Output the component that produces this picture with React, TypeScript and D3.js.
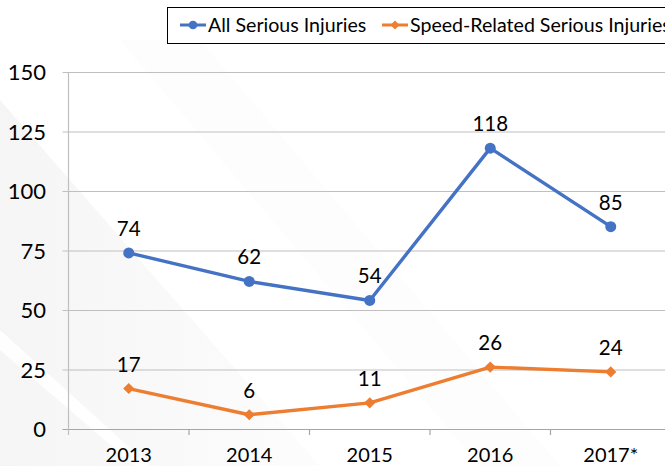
import React, { useEffect, useRef } from 'react';
import * as d3 from 'd3';

const years = ['2013', '2014', '2015', '2016', '2017*'];
const allSerious = [74, 62, 54, 118, 85];
const speedRelated = [17, 6, 11, 26, 24];
const yTicks = [0, 25, 50, 75, 100, 125, 150];

const seriesNames = ['All Serious Injuries', 'Speed-Related Serious Injuries'];
const blue = '#4472C4';
const orange = '#ED7D31';
const font = 'Lato, "Open Sans", sans-serif';

const App = () => {
  const ref = useRef<SVGSVGElement>(null);

  useEffect(() => {
    const width = 665;
    const height = 466;
    const left = 68.5;
    const svg = d3.select(ref.current);
    svg.selectAll('*').remove();

    // faint slide background
    const defs = svg.append('defs');
    const grad = defs.append('linearGradient').attr('id', 'bgfade')
      .attr('x1', 0).attr('y1', 0).attr('x2', 1).attr('y2', 0);
    grad.append('stop').attr('offset', '0%').attr('stop-color', '#ededed');
    grad.append('stop').attr('offset', '100%').attr('stop-color', '#fbfbfb');
    svg.append('rect').attr('width', width).attr('height', height).attr('fill', '#fff');
    svg.append('path')
      .attr('d', 'M0,100 L0,466 L320,466 Z')
      .attr('fill', 'url(#bgfade)').attr('opacity', 0.55);
    svg.append('path')
      .attr('d', 'M0,330 L150,466 L135,466 L0,350 Z')
      .attr('fill', '#ffffff').attr('opacity', 0.9);
    svg.append('path')
      .attr('d', 'M120,40 L480,466 L560,466 L200,40 Z')
      .attr('fill', '#f9f9f9').attr('opacity', 0.35);

    const x = d3.scaleBand().domain(years).range([left, 671]);
    const y = d3.scaleLinear().domain([0, 150]).range([429, 72]);
    const cx = (d: string) => x(d)! + x.bandwidth() / 2;

    // gridlines + y ticks
    svg.append('g')
      .selectAll('line')
      .data(yTicks)
      .join('line')
      .attr('x1', left - 6).attr('x2', width)
      .attr('y1', d => y(d) + 0.5).attr('y2', d => y(d) + 0.5)
      .attr('stroke', d => (d === 0 ? '#a6a6a6' : '#bfbfbf'))
      .attr('stroke-width', 1.2);

    svg.append('line')
      .attr('x1', left).attr('x2', left)
      .attr('y1', y(150)).attr('y2', y(0) + 6)
      .attr('stroke', '#bfbfbf').attr('stroke-width', 1.2);

    // x ticks at band boundaries
    svg.append('g')
      .selectAll('line')
      .data(years.slice(1))
      .join('line')
      .attr('x1', d => x(d)!).attr('x2', d => x(d)!)
      .attr('y1', y(0)).attr('y2', y(0) + 6)
      .attr('stroke', '#a6a6a6').attr('stroke-width', 1.2);

    svg.append('g')
      .attr('font-family', font).attr('font-size', 22).attr('fill', '#000')
      .attr('text-anchor', 'end')
      .selectAll('text')
      .data(yTicks)
      .join('text')
      .attr('x', 46).attr('y', d => y(d) + 8)
      .text(d => d);

    svg.append('g')
      .attr('font-family', font).attr('font-size', 20).attr('fill', '#000')
      .attr('text-anchor', 'middle')
      .selectAll('text')
      .data(years)
      .join('text')
      .attr('x', d => cx(d)).attr('y', 462)
      .text(d => d);

    const line = d3.line<number>().x((_, i) => cx(years[i])).y(d => y(d));

    const drawSeries = (vals: number[], color: string, shape: 'circle' | 'diamond') => {
      svg.append('path').datum(vals)
        .attr('d', line).attr('fill', 'none')
        .attr('stroke', color).attr('stroke-width', 3.4)
        .attr('stroke-linejoin', 'round');
      const sym = d3.symbol()
        .type(shape === 'circle' ? d3.symbolCircle : d3.symbolSquare)
        .size(shape === 'circle' ? 95 : 62);
      svg.append('g').selectAll('path')
        .data(vals).join('path')
        .attr('transform', (d, i) =>
          `translate(${cx(years[i])},${y(d)})${shape === 'diamond' ? ' rotate(45)' : ''}`)
        .attr('d', sym)
        .attr('fill', color);
      svg.append('g')
        .attr('font-family', font).attr('font-size', 20.5).attr('fill', '#000')
        .attr('text-anchor', 'middle')
        .selectAll('text')
        .data(vals).join('text')
        .attr('x', (_, i) => cx(years[i])).attr('y', d => y(d) - 17)
        .text(d => d);
    };

    drawSeries(allSerious, blue, 'circle');
    drawSeries(speedRelated, orange, 'diamond');

    // legend (runs past the right edge, as in the source slide)
    const lg = svg.append('g');
    lg.append('rect')
      .attr('x', 167.5).attr('y', 7.5).attr('width', 520).attr('height', 36)
      .attr('fill', '#fff').attr('stroke', '#000').attr('stroke-width', 1);
    const items = [
      { name: seriesNames[0], color: blue, sym: d3.symbolCircle, size: 60, rot: '', x: 180 },
      { name: seriesNames[1], color: orange, sym: d3.symbolSquare, size: 40, rot: ' rotate(45)', x: 382 },
    ];
    items.forEach(it => {
      lg.append('line')
        .attr('x1', it.x).attr('x2', it.x + 26).attr('y1', 25).attr('y2', 25)
        .attr('stroke', it.color).attr('stroke-width', 3);
      lg.append('path')
        .attr('transform', `translate(${it.x + 13},25)${it.rot}`)
        .attr('d', d3.symbol().type(it.sym).size(it.size))
        .attr('fill', it.color);
      lg.append('text')
        .attr('x', it.x + 28).attr('y', 32)
        .attr('font-family', font).attr('font-size', 19.6).attr('fill', '#000')
        .text(it.name);
    });
  }, []);

  return (
    <div style={{ position: 'absolute', left: 0, top: 0 }}>
      <svg ref={ref} width={665} height={466} style={{ display: 'block' }} />
    </div>
  );
};

export default App;
